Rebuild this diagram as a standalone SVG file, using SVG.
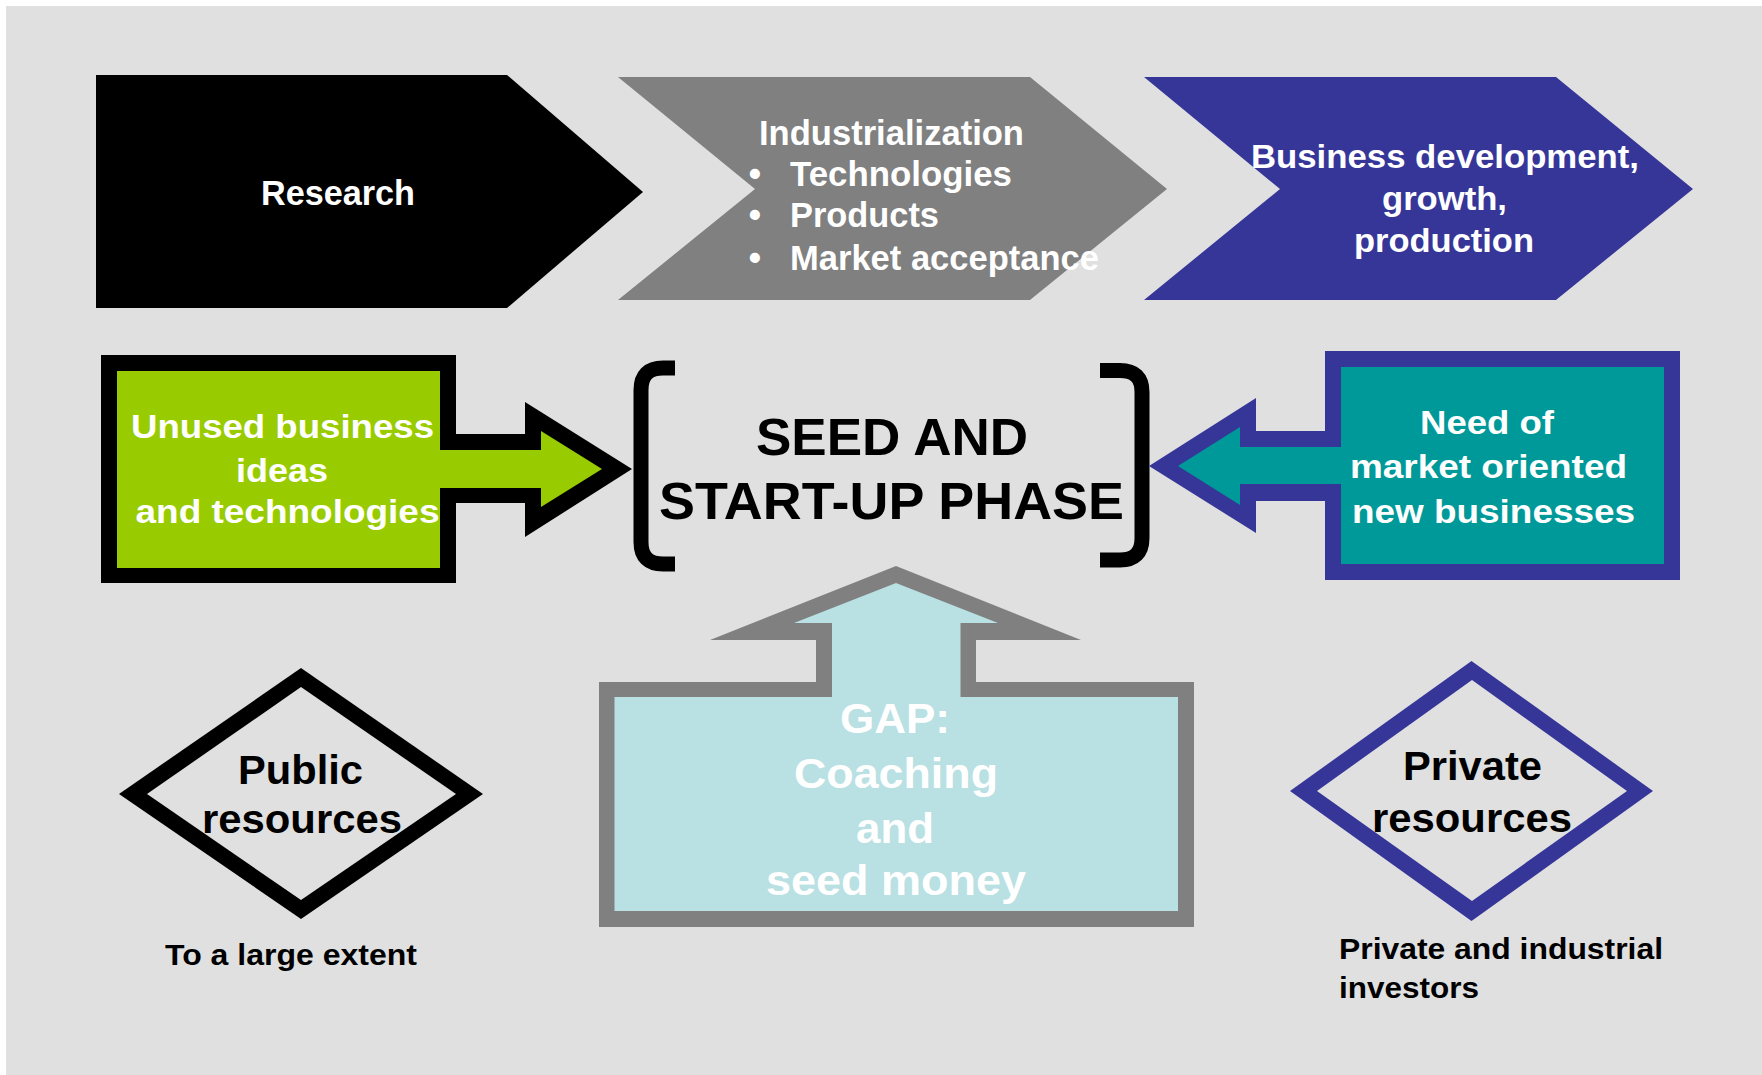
<svg xmlns="http://www.w3.org/2000/svg" width="1762" height="1075" viewBox="0 0 1762 1075">
<style>
text{font-family:"Liberation Sans",Arial,sans-serif;font-weight:bold;}
.w{fill:#FFFFFF;}
.k{fill:#000000;}
.m{text-anchor:middle;}
.f35{font-size:35px;}
.f33{font-size:33px;}
.f52{font-size:52px;}
.f40{font-size:40px;}
.f43{font-size:43px;}
.f29{font-size:29px;}
.brk{fill:none;stroke:#000000;stroke-width:15;}
</style>
<rect x="0" y="0" width="1762" height="1075" fill="#FFFFFF"/>
<rect x="6" y="6" width="1756" height="1069" fill="#E0E0E0"/>

<g id="research">
<polygon points="96,75 507,75 643,192 507,308 96,308" fill="#000000"/>
<text class="w f35 m" x="338" y="205" textLength="154" lengthAdjust="spacingAndGlyphs">Research</text>
</g>

<g id="industrialization">
<polygon points="618,77 1030,77 1167,189 1030,300 618,300 755,189" fill="#808080"/>
<text class="w f35" x="759" y="145" textLength="265" lengthAdjust="spacingAndGlyphs">Industrialization</text>
<text class="w f35 m" x="755" y="186">•</text>
<text class="w f35" x="790" y="186" textLength="222" lengthAdjust="spacingAndGlyphs">Technologies</text>
<text class="w f35 m" x="755" y="227">•</text>
<text class="w f35" x="790" y="227" textLength="149" lengthAdjust="spacingAndGlyphs">Products</text>
<text class="w f35 m" x="755" y="270">•</text>
<text class="w f35" x="790" y="270" textLength="309" lengthAdjust="spacingAndGlyphs">Market acceptance</text>
</g>

<g id="business">
<polygon points="1144,77 1556,77 1693,189 1556,300 1144,300 1280,189" fill="#363699"/>
<text class="w f33" x="1251" y="168" textLength="388" lengthAdjust="spacingAndGlyphs">Business development,</text>
<text class="w f33 m" x="1444.5" y="210" textLength="125" lengthAdjust="spacingAndGlyphs">growth,</text>
<text class="w f33" x="1354" y="252" textLength="180" lengthAdjust="spacingAndGlyphs">production</text>
</g>

<g id="seed-phase">
<path class="brk" d="M675,368 H663 Q641,368 641,390 V542 Q641,564 663,564 H675"/>
<path class="brk" d="M1100,370.5 H1120 Q1142,370.5 1142,392 V538 Q1142,560 1120,560 H1100"/>
<text class="k f52" x="756" y="455" textLength="272" lengthAdjust="spacingAndGlyphs">SEED AND</text>
<text class="k f52" x="659" y="519" textLength="465" lengthAdjust="spacingAndGlyphs">START-UP PHASE</text>
</g>

<g id="connectors">
<g id="unused-ideas">
<polygon points="101,355 456,355 456,434 525,434 525,402 632,469 525,537 525,503 456,503 456,583 101,583" fill="#000000"/>
<polygon points="117,371 440,371 440,450 541,450 541,431 602,469 541,507 541,488 440,488 440,568 117,568" fill="#99CC00"/>
<text class="w f33" x="131" y="438" textLength="303" lengthAdjust="spacingAndGlyphs">Unused business</text>
<text class="w f33 m" x="282" y="482" textLength="92" lengthAdjust="spacingAndGlyphs">ideas</text>
<text class="w f33" x="135.5" y="523" textLength="304" lengthAdjust="spacingAndGlyphs">and technologies</text>
</g>

<g id="market-need">
<polygon points="1325,351 1680,351 1680,580 1325,580 1325,501 1256,501 1256,533 1149,466 1256,398 1256,431 1325,431" fill="#363699"/>
<polygon points="1341,367 1664,367 1664,564 1341,564 1341,484 1240,484 1240,505 1178,466 1240,427 1240,447 1341,447" fill="#009999"/>
<text class="w f33 m" x="1487" y="434" textLength="134" lengthAdjust="spacingAndGlyphs">Need of</text>
<text class="w f33" x="1350" y="478" textLength="277" lengthAdjust="spacingAndGlyphs">market oriented</text>
<text class="w f33" x="1352" y="523" textLength="283" lengthAdjust="spacingAndGlyphs">new businesses</text>
</g>

<g id="gap">
<polygon points="599,682 816,682 816,640 710,640 896,566 1081,640 976,640 976,682 1194,682 1194,927 599,927" fill="#808080"/>
<polygon points="614.5,697 832,697 832,623 794,623 896,583 998,623 960.5,623 960.5,697 1178,697 1178,911 614.5,911" fill="#B9E0E3"/>
<text class="w f43 m" x="895" y="733" textLength="110" lengthAdjust="spacingAndGlyphs">GAP:</text>
<text class="w f43" x="794" y="788" textLength="204" lengthAdjust="spacingAndGlyphs">Coaching</text>
<text class="w f43 m" x="895" y="843" textLength="78" lengthAdjust="spacingAndGlyphs">and</text>
<text class="w f43" x="766" y="895" textLength="260" lengthAdjust="spacingAndGlyphs">seed money</text>
</g>
</g>

<g id="public-resources">
<polygon points="119,794 301,668 483,794 301,919" fill="#000000"/>
<polygon points="147,794 301,687 456,794 301,900" fill="#E0E0E0"/>
<text class="k f40 m" x="300.5" y="784" textLength="125" lengthAdjust="spacingAndGlyphs">Public</text>
<text class="k f40" x="202" y="833" textLength="200" lengthAdjust="spacingAndGlyphs">resources</text>
<text class="k f29" x="165" y="965" textLength="252" lengthAdjust="spacingAndGlyphs">To a large extent</text>
</g>

<g id="private-resources">
<polygon points="1290,791 1471.5,661 1653,791 1471.5,921" fill="#363699"/>
<polygon points="1317,791 1472,680 1627,791 1472,901" fill="#E0E0E0"/>
<text class="k f40" x="1403" y="780" textLength="139" lengthAdjust="spacingAndGlyphs">Private</text>
<text class="k f40" x="1372" y="832" textLength="200" lengthAdjust="spacingAndGlyphs">resources</text>
<text class="k f29" x="1339" y="959" textLength="324" lengthAdjust="spacingAndGlyphs">Private and industrial</text>
<text class="k f29" x="1339" y="998" textLength="140" lengthAdjust="spacingAndGlyphs">investors</text>
</g>
</svg>
